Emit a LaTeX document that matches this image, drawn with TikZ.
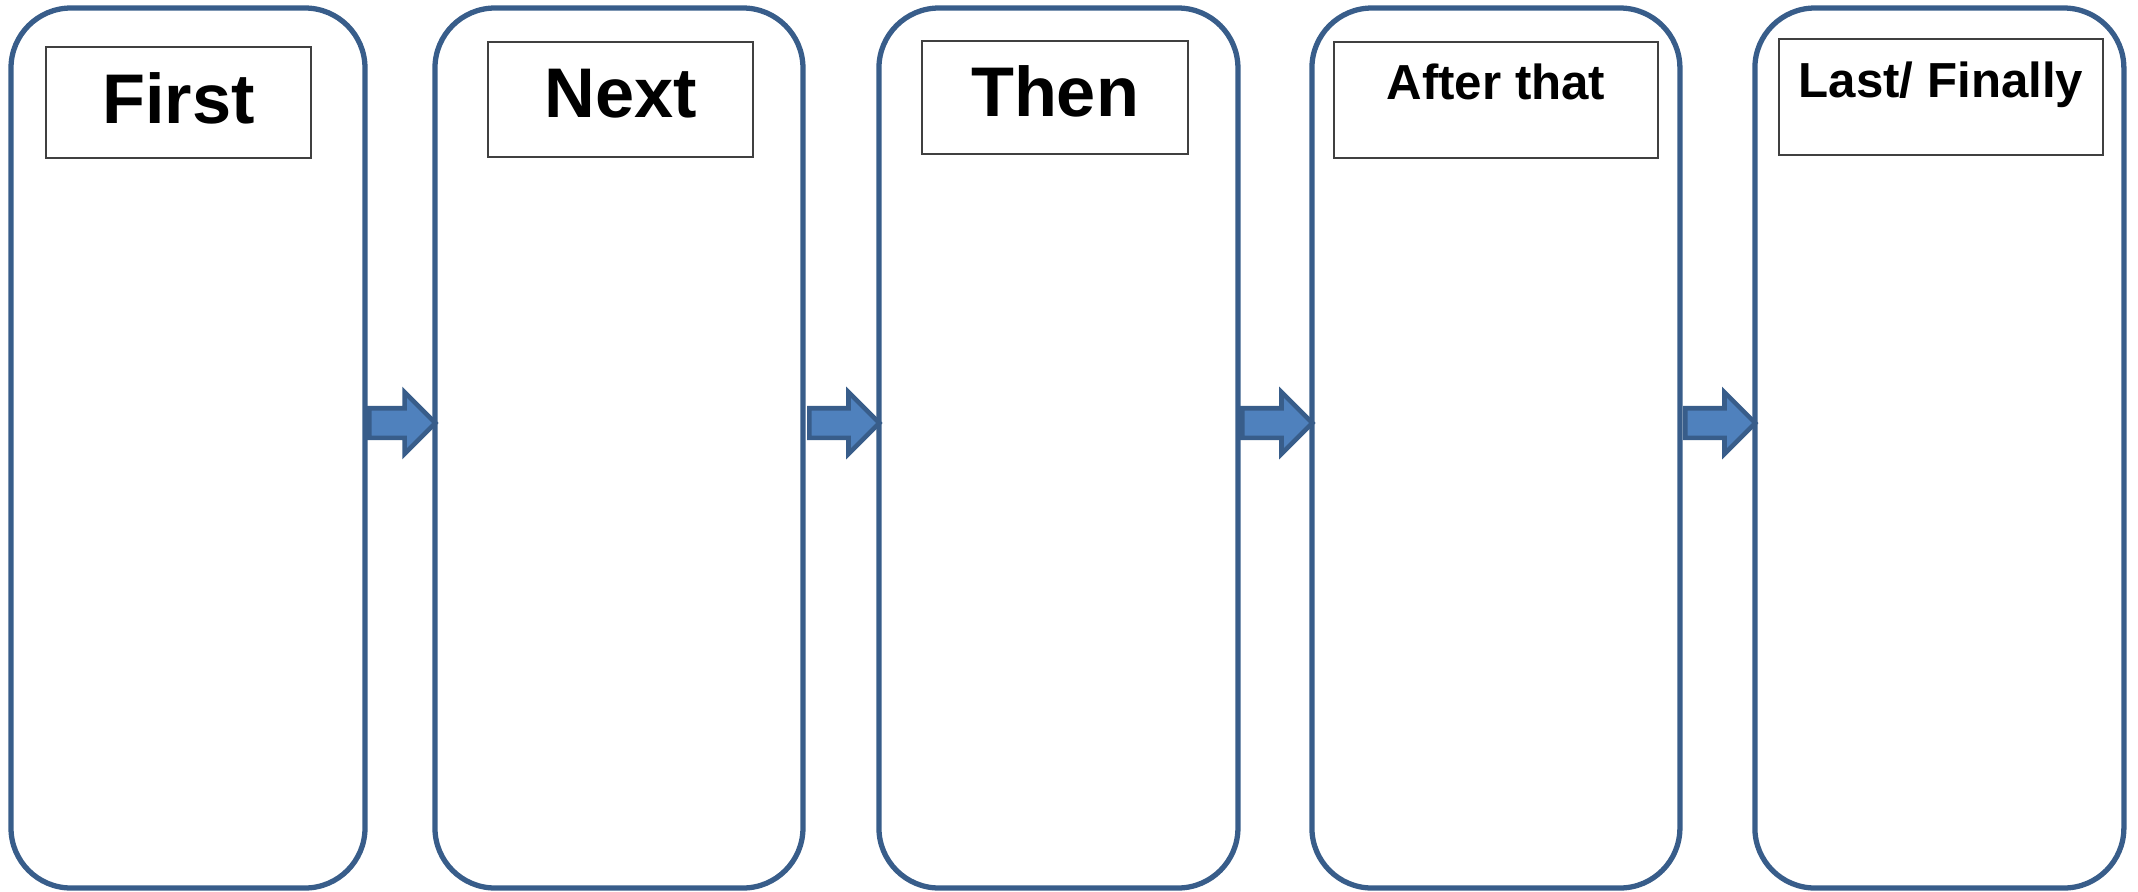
\documentclass[tikz,border=0pt]{standalone}
\usepackage{fontspec}
\setsansfont{Liberation Sans}
\usepackage{tikz}
\usetikzlibrary{calc}
\usetikzlibrary{positioning}
\usetikzlibrary{shapes.arrows}

\definecolor{stageblue}{HTML}{385D8A}
\definecolor{arrowfill}{HTML}{4F81BD}

\begin{document}
\begin{tikzpicture}[
          stage/.style={
            draw=stageblue,
            line width=1.5pt,
            rounded corners=0.6cm,
            minimum height=8.8cm,
            inner sep=0pt},
          titlebox/.style={
            draw=black!75,
            line width=0.5pt,
            inner sep=0pt},
          heading/.style={
            anchor=base,
            inner sep=0pt,
            font=\sffamily\bfseries\fontsize{20}{24}\selectfont},
          subheading/.style={
            heading,
            font=\sffamily\bfseries\fontsize{14}{17}\selectfont},
          flowarrow/.style={
            single arrow,
            draw=stageblue,
            fill=arrowfill,
            line width=1.3pt,
            inner xsep=0pt,
            inner ysep=0.125cm,
            outer sep=0pt,
            minimum height=0.66cm,
            single arrow head extend=0.16cm,
            single arrow tip angle=90,
            anchor=tip},
        ]
          \useasboundingbox (0,0) rectangle (21.38,-8.91);

          % the five stages
          \node[stage, minimum width=3.54cm] (s1) at (1.88,-4.48) {};
          \node[stage, minimum width=3.68cm] (s2) [right=0.647cm of s1] {};
          \node[stage, minimum width=3.59cm] (s3) [right=0.707cm of s2] {};
          \node[stage, minimum width=3.68cm] (s4) [right=0.687cm of s3] {};
          \node[stage, minimum width=3.69cm] (s5) [right=0.697cm of s4] {};

          % title boxes
          \node[titlebox, minimum width=2.65cm, minimum height=1.11cm] (t1) at (1.785,-1.025) {};
          \node[titlebox, minimum width=2.65cm, minimum height=1.15cm] (t2) at (6.205,-0.995) {};
          \node[titlebox, minimum width=2.66cm, minimum height=1.13cm] (t3) at (10.55,-0.975) {};
          \node[titlebox, minimum width=3.24cm, minimum height=1.16cm] (t4) at (14.96,-1.00) {};
          \node[titlebox, minimum width=3.24cm, minimum height=1.16cm] (t5) at (19.41,-0.97) {};

          \node[heading] (h1) at ($(t1.center)+(0,-0.205)$) {First};
          \node[heading] (h2) at ($(t2.center)+(0,-0.175)$) {Next};
          \node[heading] (h3) at ($(t3.center)+(0,-0.185)$) {Then};
          \node[subheading] (h4) at ($(t4.center)+(0,0.01)$) {After that};
          \node[subheading] (h5) at (t5.center) {Last/ Finally};

          % arrows between the stages
          \node[flowarrow] (a1) at ([xshift=0.03cm,yshift=0.25cm]s2.west) {};
          \node[flowarrow, minimum height=0.7cm] (a2) at ([xshift=0.03cm,yshift=0.25cm]s3.west) {};
          \node[flowarrow, minimum height=0.7cm] (a3) at ([xshift=0.03cm,yshift=0.25cm]s4.west) {};
          \node[flowarrow, minimum height=0.7cm] (a4) at ([xshift=0.03cm,yshift=0.25cm]s5.west) {};
        \end{tikzpicture}
\end{document}
